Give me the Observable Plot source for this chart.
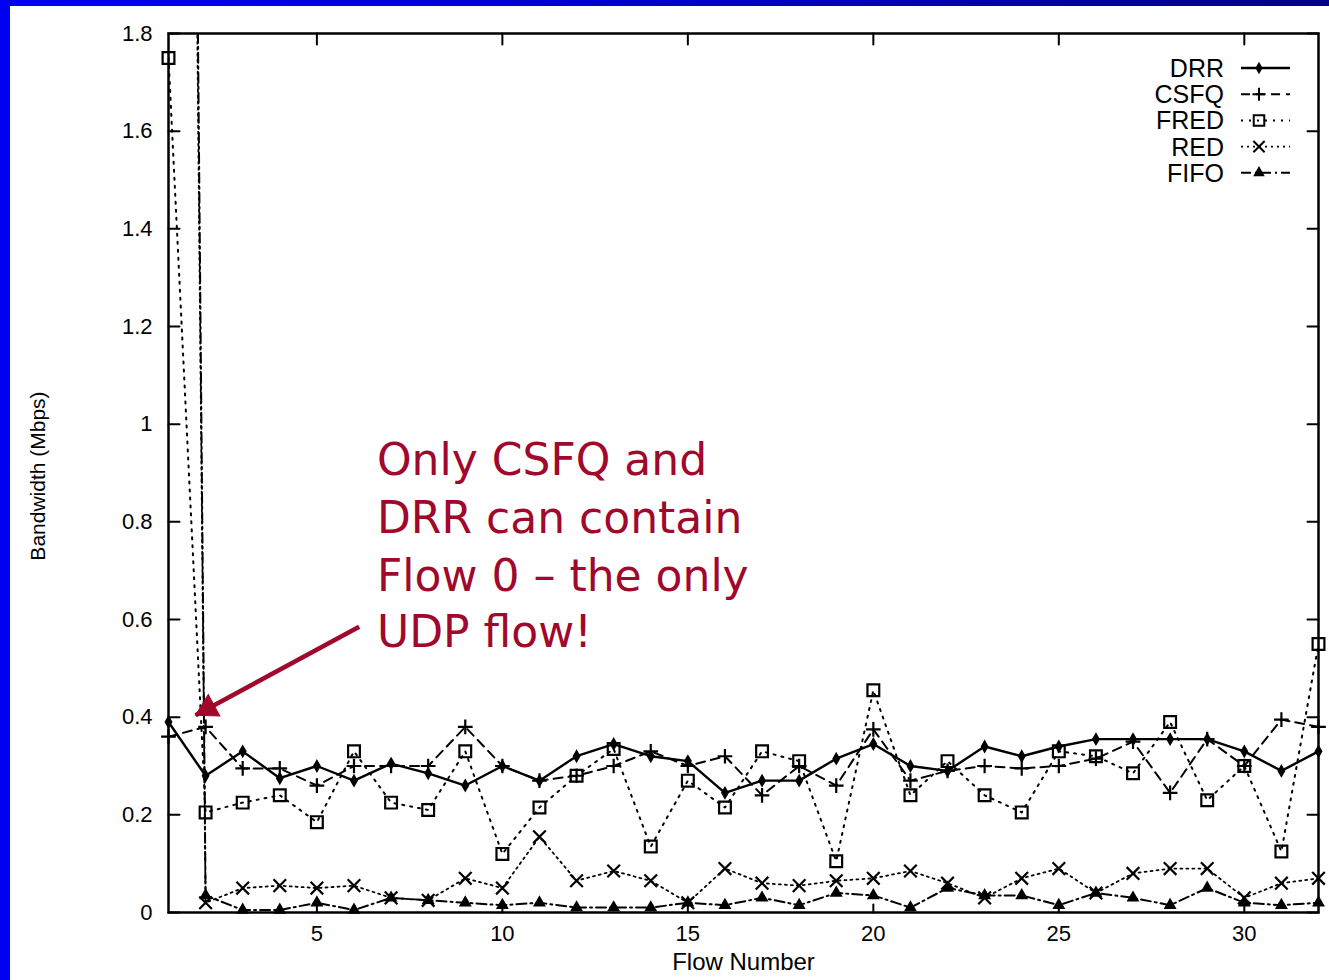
<!DOCTYPE html>
<html><head><meta charset="utf-8">
<script src="https://cdn.jsdelivr.net/npm/d3@7"></script>
<script src="https://cdn.jsdelivr.net/npm/@observablehq/plot@0.6"></script>
<style>
html,body{margin:0;padding:0;background:#fff;width:1329px;height:980px;overflow:hidden}
#chart{position:absolute;left:0;top:0}
#legend{position:absolute;left:0;top:0;pointer-events:none}
#topbar{position:absolute;left:0;top:0;width:1329px;height:6px;background:linear-gradient(to right,#0000f2 0%,#0000c8 50%,#00008a 100%)}
#leftbar{position:absolute;left:0;top:0;width:10px;height:980px;background:#0000f2}
</style></head><body>
<div id="chart"></div>
<svg id="legend" width="1329" height="980"></svg>
<div id="leftbar"></div><div id="topbar"></div>
<script>
// ---- data ----
const flows = [1,2,3,4,5,6,7,8,9,10,11,12,13,14,15,16,17,18,19,20,21,22,23,24,25,26,27,28,29,30,31,32];
const DRR  = [0.39,0.28,0.33,0.275,0.30,0.27,0.305,0.285,0.26,0.30,0.27,0.32,0.345,0.32,0.31,0.245,0.27,0.27,0.315,0.345,0.30,0.29,0.34,0.32,0.34,0.355,0.355,0.355,0.355,0.33,0.29,0.33];
const CSFQ = [0.36,0.38,0.295,0.295,0.26,0.30,0.30,0.30,0.38,0.30,0.27,0.28,0.30,0.33,0.30,0.32,0.24,0.30,0.26,0.375,0.27,0.29,0.30,0.295,0.30,0.315,0.35,0.245,0.355,0.30,0.395,0.38];
const FRED = [1.75,0.205,0.225,0.24,0.185,0.33,0.225,0.21,0.33,0.12,0.215,0.28,0.335,0.135,0.27,0.215,0.33,0.31,0.105,0.455,0.24,0.31,0.24,0.205,0.33,0.32,0.285,0.39,0.23,0.30,0.125,0.55];
const RED  = [8.0,0.02,0.05,0.055,0.05,0.055,0.03,0.025,0.07,0.05,0.155,0.065,0.085,0.065,0.02,0.09,0.06,0.055,0.065,0.07,0.085,0.06,0.03,0.07,0.09,0.04,0.08,0.09,0.09,0.03,0.06,0.07];
const FIFO = [8.6,0.035,0.005,0.005,0.02,0.005,0.03,0.025,0.02,0.015,0.02,0.01,0.01,0.01,0.02,0.015,0.03,0.015,0.04,0.035,0.01,0.05,0.035,0.035,0.015,0.04,0.03,0.015,0.05,0.02,0.015,0.02];

const seriesNames = ["DRR","CSFQ","FRED","RED","FIFO"];
const xTicks = [5,10,15,20,25,30];
const yTicks = [0,0.2,0.4,0.6,0.8,1,1.2,1.4,1.6,1.8];
const yTickLabels = ["0","0.2","0.4","0.6","0.8","1","1.2","1.4","1.6","1.8"];
const xLabel = "Flow Number";
const yLabel = "Bandwidth (Mbps)";

const annLines = ["Only CSFQ and","DRR can contain","Flow 0 \u2013 the only","UDP flow!"];
const annLineY = [0.924,0.805,0.688,0.573];
const annX = 6.62;
const annArrow = [{x1:6.14,y1:0.585,x2:1.73,y2:0.404}];
const annColor = "#a0082c";

// ---- styles ----
const style = {
  DRR:  {dash:null,        symbol:"diamond",  r:4.2, sw:2.4, fill:"black", markerStroke:"none"},
  CSFQ: {dash:"9,6",       symbol:"plus",     r:4.8, sw:2.0, fill:"none",  markerStroke:"black"},
  FRED: {dash:"2,6",       symbol:"square2",  r:7.5, sw:2.0, fill:"none",  markerStroke:"black"},
  RED:  {dash:"2,4",       symbol:"times",    r:5.8, sw:1.8, fill:"none",  markerStroke:"black"},
  FIFO: {dash:"10,4,2,4",  symbol:"triangle", r:4.8, sw:2.0, fill:"black", markerStroke:"none"}
};
const values = {DRR, CSFQ, FRED, RED, FIFO};

const rows = [];
for (const s of seriesNames) flows.forEach((f,i)=>rows.push({series:s, flow:f, bw:values[s][i]}));

const tickShape = {draw(ctx, l){ ctx.moveTo(0,0); ctx.lineTo(0,-l); }};

const marks = [];
// tick marks (inward) on all four sides
marks.push(Plot.vector(yTicks, {x: 1, y: d=>d, rotate: 90, length: 11, anchor: "start", shape: tickShape, stroke: "black", strokeWidth: 2}));
marks.push(Plot.vector(yTicks, {x: 32, y: d=>d, rotate: -90, length: 11, anchor: "start", shape: tickShape, stroke: "black", strokeWidth: 2}));
marks.push(Plot.vector(xTicks, {x: d=>d, y: 1.8, rotate: 180, length: 11, anchor: "start", shape: tickShape, stroke: "black", strokeWidth: 2}));
marks.push(Plot.vector(xTicks, {x: d=>d, y: 0, rotate: 0, length: 8, anchor: "start", shape: tickShape, stroke: "black", strokeWidth: 2}));

for (const s of [...seriesNames].reverse()) {
  const st = style[s];
  const data = rows.filter(d=>d.series===s);
  marks.push(Plot.line(data, {x:"flow", y:"bw", stroke:"black", strokeWidth: st.sw, strokeDasharray: st.dash ?? undefined, clip: true}));
}
for (const s of [...seriesNames].reverse()) {
  const st = style[s];
  const data = rows.filter(d=>d.series===s && d.bw <= 1.8);
  marks.push(Plot.dot(data, {x:"flow", y:"bw", symbol: st.symbol, r: st.r, fill: st.fill, stroke: st.markerStroke, strokeWidth: 2.2}));
}

marks.push(Plot.frame({stroke:"black", strokeWidth: 2.5}));
marks.push(Plot.axisX(xTicks, {tickSize: 0, tickPadding: 13, label: null, fontSize: 22}));
marks.push(Plot.axisY(yTicks, {tickSize: 0, tickPadding: 16, label: null, fontSize: 22, tickFormat: (d)=>yTickLabels[yTicks.indexOf(d)]}));
marks.push(Plot.text([xLabel], {frameAnchor: "bottom", lineAnchor: "middle", dy: 50, fontSize: 24, text: d=>d}));
marks.push(Plot.text([yLabel], {frameAnchor: "left", textAnchor: "middle", lineAnchor: "middle", dx: -130, dy: 3, rotate: -90, fontSize: 21, text: d=>d}));

// annotation: shaft + filled arrowhead
const ah = annArrow[0];
marks.push(Plot.link(annArrow, {x1:"x1", y1:"y1", x2:"x2", y2:"y2", stroke: annColor, strokeWidth: 4.5}));
marks.push(Plot.dot([ah], {x:"x2", y:"y2", symbol:"triangle", r: 9, fill: annColor, stroke: annColor, strokeWidth: 1, rotate: -118.4, dx: 12.3, dy: -6.6}));
marks.push(Plot.text(annLines, {x: ()=>annX, y: (d,i)=>annLineY[i], text: d=>d, textAnchor: "start", fill: annColor, fontSize: 44, fontFamily: "'DejaVu Sans', sans-serif"}));

const chart = Plot.plot({
  width: 1329, height: 980,
  marginLeft: 168, marginRight: 11, marginTop: 33, marginBottom: 68,
  x: {domain: [1,32], axis: null},
  y: {domain: [0,1.8], axis: null},
  style: {fontFamily: "'Liberation Sans', Arial, sans-serif", fontSize: "22px", background: "white", color: "black"},
  marks
});
document.getElementById("chart").appendChild(chart);

// legend (top right, inside frame)
const lg = d3.select("#legend");
const legY0 = 68, legDY = 26.2;
const symMap = {diamond:d3.symbolDiamond, plus:d3.symbolPlus, square2:d3.symbolSquare2, times:d3.symbolTimes, triangle:d3.symbolTriangle};
seriesNames.forEach((s,i)=>{
  const st = style[s];
  const y = legY0 + i*legDY;
  lg.append("text").attr("x",1224).attr("y",y).attr("dy","0.36em").attr("text-anchor","end")
    .attr("font-family","'Liberation Sans', Arial, sans-serif").attr("font-size",25).text(s);
  lg.append("line").attr("x1",1241).attr("x2",1290).attr("y1",y).attr("y2",y)
    .attr("stroke","black").attr("stroke-width",st.sw).attr("stroke-dasharray",st.dash);
  lg.append("path").attr("transform",`translate(1259,${y})`)
    .attr("d", d3.symbol(symMap[st.symbol], st.r*st.r*Math.PI*0.8)())
    .attr("fill", st.fill).attr("stroke", st.markerStroke).attr("stroke-width",2);
});
</script>
</body></html>
